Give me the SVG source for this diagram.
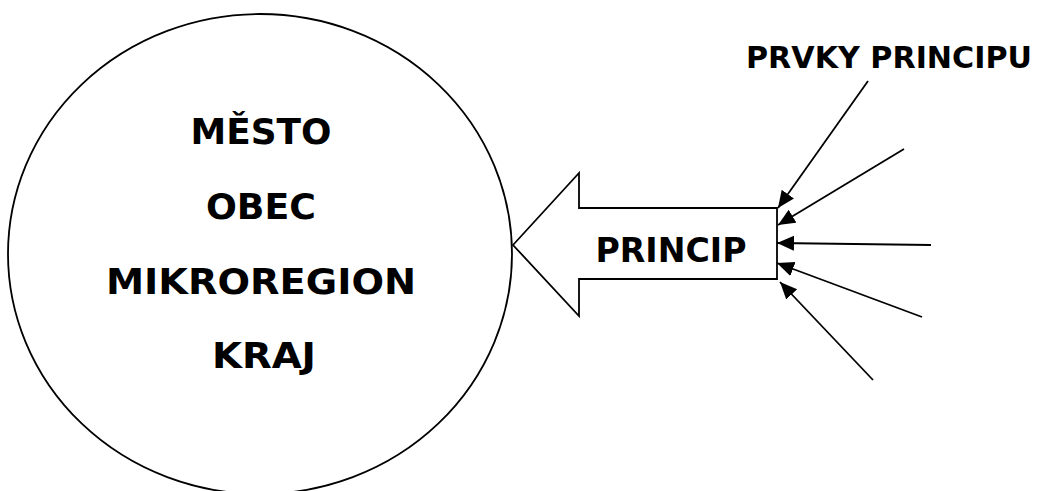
<svg xmlns="http://www.w3.org/2000/svg" width="1039" height="491" viewBox="0 0 1039 491">
<style>
  .t { font-family: "DejaVu Sans", Verdana, sans-serif; font-weight: bold; font-size: 36px; fill: #000; text-anchor: middle; }
  .p { font-size: 34px; }
  .s { font-size: 30px; }
  .shape { fill: #fff; stroke: #000; stroke-width: 1.8; }
  .c { stroke: #000; stroke-width: 1.8; fill: none; marker-end: url(#ah); }
</style>
<defs>
  <marker id="ah" markerUnits="userSpaceOnUse" markerWidth="18" markerHeight="16" refX="17" refY="7.5" orient="auto">
    <path d="M0,0 L17,7.5 L0,15 z" fill="#000"/>
  </marker>
</defs>
<rect width="1039" height="491" fill="#fff"/>
<g id="circle-node">
  <ellipse class="shape" cx="260" cy="254" rx="252" ry="240"/>
  <text class="t" x="261" y="144" textLength="141" lengthAdjust="spacingAndGlyphs">MĚSTO</text>
  <text class="t" x="261" y="219" textLength="110" lengthAdjust="spacingAndGlyphs">OBEC</text>
  <text class="t" x="261" y="294" textLength="310" lengthAdjust="spacingAndGlyphs">MIKROREGION</text>
  <text class="t" x="264" y="368" textLength="104" lengthAdjust="spacingAndGlyphs">KRAJ</text>
</g>
<g id="princip-node">
  <polygon class="shape" points="513,245 579,173 579,208 777,208 777,279 579,279 579,316"/>
  <text class="t p" x="671" y="262" textLength="151" lengthAdjust="spacingAndGlyphs">PRINCIP</text>
</g>
<g id="prvky-label">
  <text class="t s" x="889" y="68" textLength="286" lengthAdjust="spacingAndGlyphs">PRVKY PRINCIPU</text>
</g>
<g id="connectors">
  <line class="c" x1="868" y1="81" x2="778" y2="208"/>
  <line class="c" x1="904" y1="149" x2="778" y2="225"/>
  <line class="c" x1="931" y1="245" x2="777" y2="243"/>
  <line class="c" x1="922" y1="317" x2="777" y2="263"/>
  <line class="c" x1="873" y1="380" x2="780" y2="282"/>
</g>
</svg>
